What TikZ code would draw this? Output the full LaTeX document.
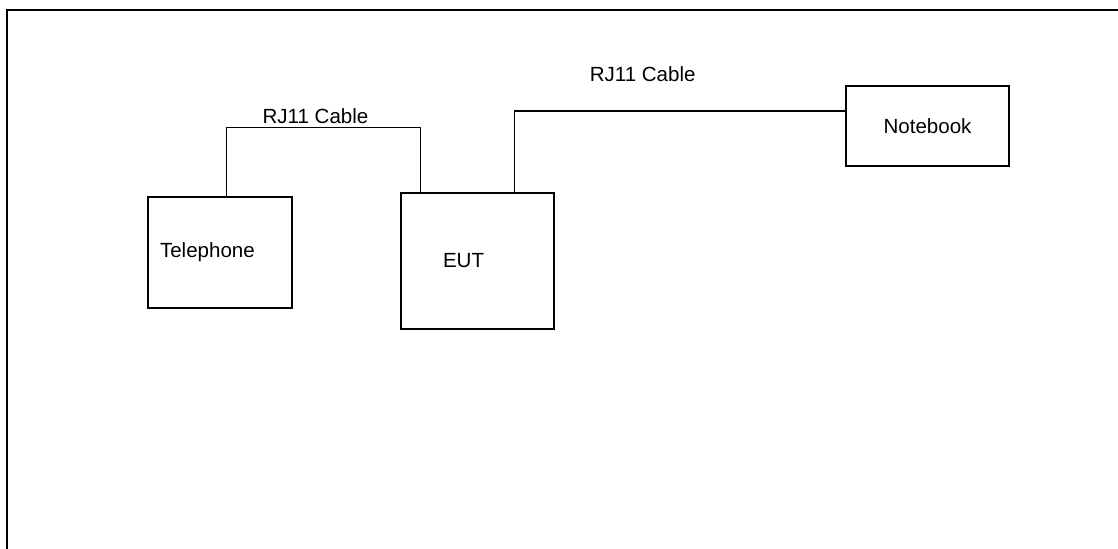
\documentclass[tikz,border=0pt]{standalone}
\usepackage{fontspec}
\setmainfont{Liberation Sans}
\usetikzlibrary{calc}

\begin{document}
\begin{tikzpicture}[x=0.75pt, y=-0.75pt,
  dev/.style={rectangle, draw, line width=1.1pt,
              font=\fontsize{15.4}{18}\selectfont, inner ysep=0pt},
  lbl/.style={font=\fontsize{15.4}{18}\selectfont, inner sep=0pt},
  cable/.style={line width=1.1pt},
  frame/.style={line width=1.6pt},
]
\useasboundingbox (0,0) rectangle (1118,549);
% --- outer frame, running off the right and bottom edges ---
\draw[frame] (7,560) -- (7,10) -- (1130,10);

% --- devices ---
\node[dev, text width=90pt, inner xsep=9pt, align=left, minimum height=83.25pt]
  (tel) at (220,252.5) {Telephone};
\node[dev, text width=51.75pt, inner xsep=31.5pt, align=left, minimum height=102pt]
  (eut) at (477.5,261) {EUT};
\node[dev, minimum width=122.25pt, minimum height=60pt]
  (nb) at (927.5,126) {Notebook};

% --- cables ---
\draw[cable] ($(tel.north west)+(79,0)$) |- node[lbl, pos=0.73, yshift=8.6pt] {RJ11 Cable}
  ($(eut.north west)+(20,-65)$) -- ($(eut.north west)+(20,0)$);
\draw[cable] ($(eut.north west)+(114,0)$) |- node[lbl, pos=0.694, yshift=27.4pt] {RJ11 Cable}
  ($(nb.west)+(0,-15)$);
\end{tikzpicture}
\end{document}
